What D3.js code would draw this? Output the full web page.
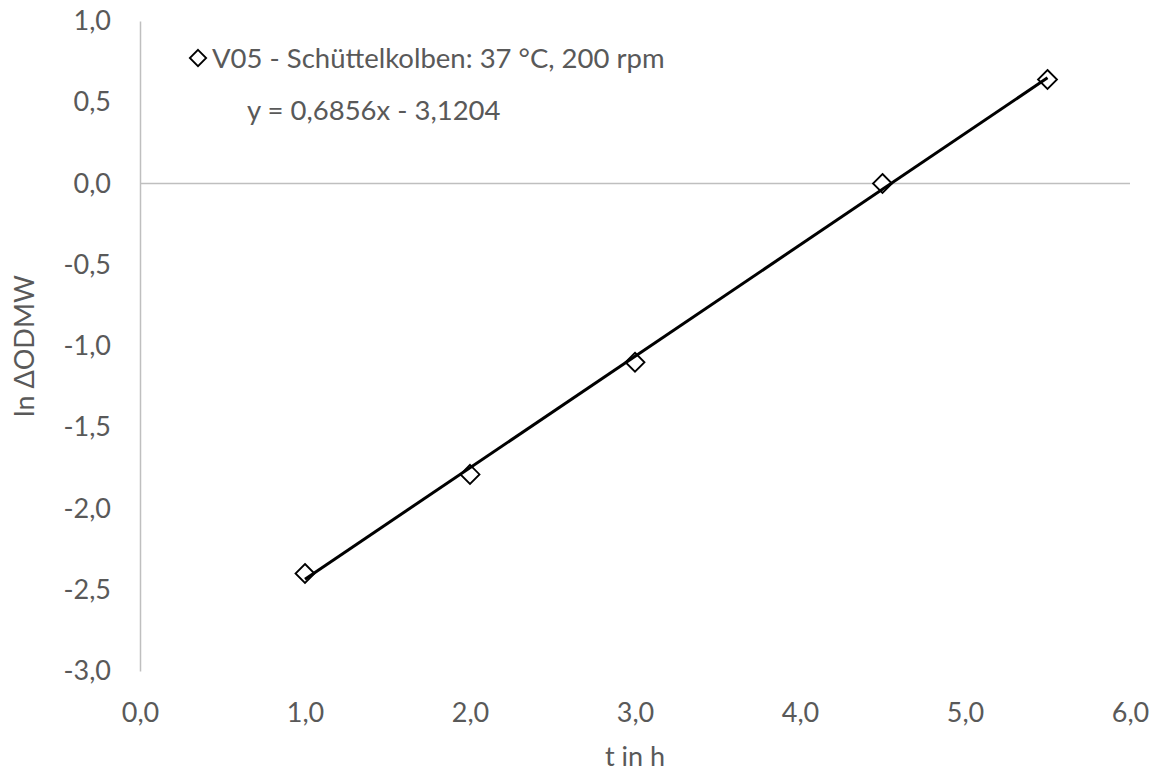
<!DOCTYPE html>
<html>
<head>
<meta charset="utf-8">
<script src="https://cdn.jsdelivr.net/npm/d3@7"></script>
<style>
  html, body { margin: 0; padding: 0; background: #fff; }
  svg { display: block; font-family: Lato, "Open Sans", sans-serif; }
</style>
</head>
<body>
<svg id="chart" width="1158" height="774"></svg>
<script>
// Measured growth points: time in hours vs. ln ΔODMW
const times = [1.0, 2.0, 3.0, 4.5, 5.5];
const lnValues = [-2.40, -1.79, -1.10, 0.00, 0.64];

// Linear trendline coefficients (y = slope·x + intercept)
const trendSlope = 0.6856;
const trendIntercept = -3.1204;

const xTicks = [0, 1, 2, 3, 4, 5, 6];
const yTicks = [1.0, 0.5, 0.0, -0.5, -1.0, -1.5, -2.0, -2.5, -3.0];

const seriesName = "V05 - Schüttelkolben: 37 °C, 200 rpm";
const equationText = "y = 0,6856x - 3,1204";
const xTitle = "t in h";
const yTitle = "ln ΔODMW";

const svg = d3.select("#chart");
const margin = { left: 140, right: 28, top: 21, bottom: 103 };
const W = 1158, H = 774;
const fontSize = 27;

const x = d3.scaleLinear().domain([0, 6]).range([margin.left, W - margin.right]);
const y = d3.scaleLinear().domain([-3, 1]).range([H - margin.bottom, margin.top]);

const fmt = v => d3.format(".1f")(v).replace(".", ",").replace("−", "-");
const labelColor = "#595959";
const axisColor = "#bfbfbf";

// Vertical value axis at x = 0
const yAxis = d3.axisLeft(y).tickValues(yTicks).tickFormat(fmt).tickSize(0).tickPadding(29);
const gy = svg.append("g").attr("transform", `translate(${x(0)},0)`).call(yAxis);
gy.select(".domain").attr("stroke", axisColor).attr("stroke-width", 1.5);
gy.selectAll("text").attr("fill", labelColor).attr("font-size", fontSize)
  .attr("font-family", "Lato, sans-serif");

// Horizontal axis line crossing at y = 0; tick labels sit below the plot
svg.append("line")
  .attr("x1", x(0)).attr("x2", x(6))
  .attr("y1", y(0)).attr("y2", y(0))
  .attr("stroke", axisColor).attr("stroke-width", 1.5);

const xAxis = d3.axisBottom(x).tickValues(xTicks).tickFormat(fmt).tickSize(0).tickPadding(32);
const gx = svg.append("g").attr("transform", `translate(0,${y(-3)})`).call(xAxis);
gx.select(".domain").remove();
gx.selectAll("text").attr("fill", labelColor).attr("font-size", fontSize)
  .attr("font-family", "Lato, sans-serif");

// Axis titles
svg.append("text")
  .attr("x", x(3)).attr("y", 766)
  .attr("text-anchor", "middle")
  .attr("fill", labelColor).attr("font-size", fontSize)
  .text(xTitle);

svg.append("text")
  .attr("transform", `translate(34,${y(-1)}) rotate(-90)`)
  .attr("text-anchor", "middle")
  .attr("fill", labelColor).attr("font-size", fontSize)
  .text(yTitle);

// Diamond markers
const diamond = d3.symbol().type(d3.symbolDiamond2).size(230);
svg.append("g").selectAll("path")
  .data(times.map((t, i) => ({ t, v: lnValues[i] })))
  .join("path")
  .attr("d", diamond)
  .attr("transform", d => `translate(${x(d.t)},${y(d.v)})`)
  .attr("fill", "#fff")
  .attr("stroke", "#000")
  .attr("stroke-width", 1.8);

// Trendline over the measured range
const tMin = d3.min(times), tMax = d3.max(times);
const trend = [tMin, tMax].map(t => ({ t, v: trendSlope * t + trendIntercept }));
svg.append("path")
  .datum(trend)
  .attr("d", d3.line().x(d => x(d.t)).y(d => y(d.v)))
  .attr("stroke", "#000")
  .attr("stroke-width", 3)
  .attr("fill", "none");

// Legend entry
svg.append("path")
  .attr("d", d3.symbol().type(d3.symbolDiamond2).size(170))
  .attr("transform", "translate(198,58)")
  .attr("fill", "#fff").attr("stroke", "#000").attr("stroke-width", 1.8);
svg.append("text")
  .attr("x", 212).attr("y", 68)
  .attr("fill", labelColor).attr("font-size", 27.5)
  .text(seriesName);

// Trendline equation
svg.append("text")
  .attr("x", 247).attr("y", 120)
  .attr("fill", labelColor).attr("font-size", 27.5)
  .text(equationText);
</script>
</body>
</html>
